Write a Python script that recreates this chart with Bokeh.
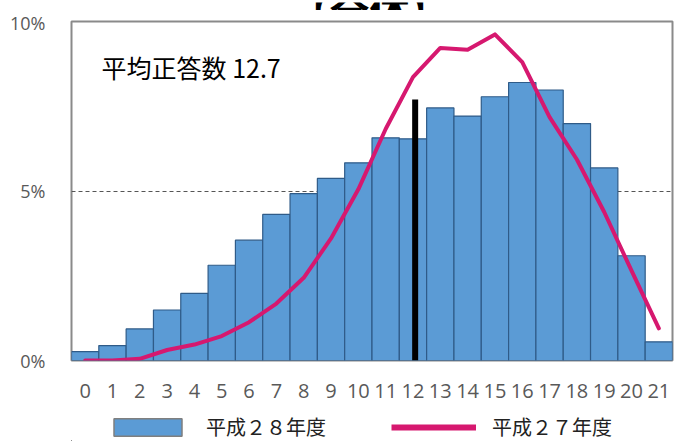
from bokeh.plotting import figure
from bokeh.layouts import column
from bokeh.models import (Range1d, FixedTicker, PrintfTickFormatter, Legend, LegendItem, Label)
from bokeh.core.properties import value
from bokeh.embed import file_html
from bokeh.resources import INLINE

# ---- data ----
scores = list(range(22))
tick_labels = [str(s) for s in scores]
h28 = [0.26, 0.44, 0.93, 1.49, 1.98, 2.81, 3.55, 4.31, 4.92, 5.37, 5.83,
       6.57, 6.54, 7.45, 7.21, 7.78, 8.20, 7.98, 6.99, 5.68, 3.09, 0.55]
h27 = [0.0, 0.0, 0.05, 0.31, 0.47, 0.72, 1.13, 1.68, 2.44, 3.60, 5.05,
       6.83, 8.36, 9.22, 9.17, 9.62, 8.80, 7.18, 5.93, 4.38, 2.65, 0.95]
mean_label = "平均正答数 12.7"
mean_line_x = 12.08
mean_line_top = 7.70
series_names = ["平成２８年度", "平成２７年度"]
title_text = "【全体】"
y_ticks = [0, 5, 10]

BAR_FILL = "#5b9bd5"
BAR_LINE = "#2f5b88"
LINE_COLOR = "#d6186f"
W = 674
FL, FR = 71, 672   # frame left / right in page pixels (shared by the stacked figures)

# ---- title strip (only the lower edge of the title is visible, as in the reference) ----
pt = figure(width=W, height=10, output_backend="svg", toolbar_location=None,
            x_range=Range1d(FL, FR), y_range=Range1d(0, 10),
            min_border_left=FL, min_border_right=W - FR, min_border_top=0, min_border_bottom=0)
pt.axis.visible = False
pt.grid.visible = False
pt.outline_line_color = None
pt.text(x=[369], y=[3], text=[title_text], text_align="center", text_baseline="alphabetic",
        text_font=value("Noto Sans CJK JP"), text_font_size="40px", text_font_style="bold",
        text_color="black")

# ---- main chart ----
p = figure(width=W, height=395, output_backend="svg", toolbar_location=None,
           x_range=Range1d(-0.5, 21.5), y_range=Range1d(0, 10),
           min_border_left=FL, min_border_right=W - FR, min_border_top=11, min_border_bottom=45)
p.background_fill_color = "white"
p.border_fill_color = "white"
p.outline_line_color = "#8a8a8a"
p.outline_line_width = 2

bars = p.vbar(x=scores, top=h28, width=1.0, bottom=0,
              fill_color=BAR_FILL, line_color=BAR_LINE, line_width=1.2)
line = p.line(scores, h27, line_color=LINE_COLOR, line_width=4, line_join="round", line_cap="round")
p.segment(x0=[mean_line_x], y0=[0], x1=[mean_line_x], y1=[mean_line_top],
          line_color="black", line_width=6)

p.xaxis.ticker = FixedTicker(ticks=scores)
p.xaxis.major_label_overrides = {s: t for s, t in zip(scores, tick_labels)}
p.yaxis.ticker = FixedTicker(ticks=y_ticks)
p.yaxis.formatter = PrintfTickFormatter(format="%d%%")
for ax in (p.xaxis, p.yaxis):
    ax.axis_line_color = None
    ax.major_tick_line_color = None
    ax.minor_tick_line_color = None
    ax.major_label_text_font = "Open Sans"
    ax.major_label_text_color = "#595959"
p.xaxis.major_label_text_font_size = "20px"
p.xaxis.major_label_standoff = 17
p.yaxis.major_label_text_font_size = "18px"
p.yaxis.major_label_standoff = 20

p.xgrid.grid_line_color = None
p.ygrid.ticker = FixedTicker(ticks=[5])
p.ygrid.grid_line_color = "#555555"
p.ygrid.grid_line_dash = "4 3"
p.ygrid.grid_line_width = 1

p.add_layout(Label(x=0.6, y=8.67, text=mean_label, text_baseline="middle",
                   text_font="Noto Sans CJK JP", text_font_size="25px", text_color="black"))

# ---- legend strip (legend proxies use the series data but lie outside this strip's view) ----
pl = figure(width=W, height=36, output_backend="svg", toolbar_location=None,
            x_range=Range1d(30, 60), y_range=Range1d(30, 60),
            min_border_left=FL, min_border_right=W - FR, min_border_top=0, min_border_bottom=0)
pl.axis.visible = False
pl.grid.visible = False
pl.outline_line_color = None
lb = pl.vbar(x=scores, top=h28, width=1.0, fill_color=BAR_FILL, line_color="#7f7f7f", line_width=1.5)
ll = pl.line(x=scores, y=h27, line_color=LINE_COLOR, line_width=6)
legend = Legend(items=[LegendItem(label=series_names[0], renderers=[lb]),
                       LegendItem(label=series_names[1], renderers=[ll])],
                orientation="horizontal", location=(105 - FL, 0),
                glyph_width=85, glyph_height=22, label_standoff=16, spacing=65,
                padding=0, margin=0, border_line_color=None, background_fill_alpha=0,
                label_text_font="Noto Sans CJK JP", label_text_font_size="20px",
                label_text_color="#222222")
pl.add_layout(legend, "center")

layout = column(pt, p, pl, spacing=0)
open("out.html", "w").write(file_html(layout, INLINE))
